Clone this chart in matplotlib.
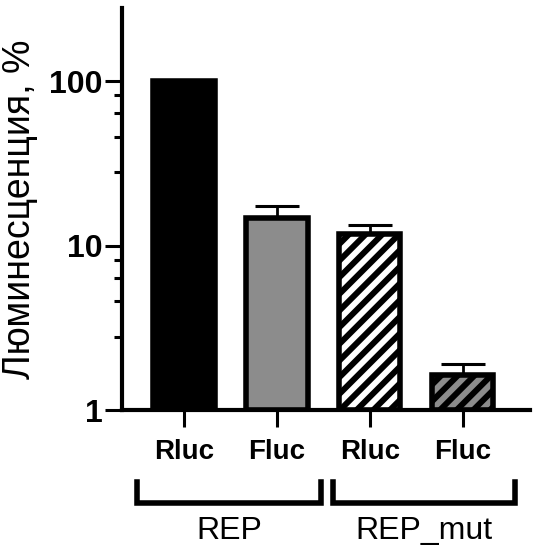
import matplotlib
matplotlib.use('Agg')
import matplotlib.pyplot as plt
import matplotlib.transforms as mtransforms
from matplotlib.ticker import FixedLocator, NullFormatter
import numpy as np

plt.rcParams['font.family'] = ['Liberation Sans', 'DejaVu Sans']
plt.rcParams['hatch.linewidth'] = 4.3

# data
labels = ['Rluc', 'Fluc', 'Rluc', 'Fluc']
values = [100, 14.8, 11.8, 1.63]
err_up = [0, 2.6, 1.6, 0.28]
groups = ['REP', 'REP_mut']
faces = ['black', '#8c8c8c', 'white', '#8c8c8c']
hatches = ['', '', '//', '//']
minor_mult = [2.8, 4.6, 6.4, 8.2]

fig = plt.figure(figsize=(5.35, 5.55), dpi=100)
ax = fig.add_axes([0.228, 0.261, 0.762, 0.725])

x = np.arange(len(values))
for i in range(len(values)):
    ax.bar(x[i], values[i] - 1, bottom=1, width=0.66, color=faces[i],
           edgecolor='black', linewidth=4, hatch=hatches[i], zorder=2)
    if err_up[i] > 0:
        ax.errorbar(x[i], values[i], yerr=[[0], [err_up[i]]], fmt='none',
                    ecolor='black', elinewidth=2, capsize=16, capthick=2.2,
                    zorder=1)

ax.set_yscale('log')
ax.set_ylim(1, 280)
ax.set_xlim(-0.667, 3.72)

ax.set_yticks([1, 10, 100])
ax.set_yticklabels(['1', '10', '100'], fontsize=23, fontweight='bold')
ax.tick_params(axis='y', which='major', length=12, width=2.2, pad=2)
ax.tick_params(axis='y', which='minor', length=6, width=2.2)

ax.set_xticks(x)
ax.set_xticklabels(labels, fontsize=20, fontweight='bold')
ax.tick_params(axis='x', length=12, width=2.2, pad=9)

for s in ['top', 'right']:
    ax.spines[s].set_visible(False)
for s in ['left', 'bottom']:
    ax.spines[s].set_linewidth(3)

ax.set_ylabel('Люминесценция, %', fontsize=27)
ax.yaxis.set_label_coords(-0.205, 0.5)

# group brackets
trans = mtransforms.blended_transform_factory(ax.transData, ax.transAxes)
brackets = [(-0.5, 1.47), (1.6, 3.56)]
for (x0, x1), g in zip(brackets, groups):
    ax.plot([x0, x0, x1, x1], [-0.178, -0.23, -0.23, -0.178], color='black',
            lw=4, transform=trans, clip_on=False, solid_joinstyle='miter')
    ax.text((x0 + x1) / 2, -0.3, g, transform=trans, ha='center',
            va='center', fontsize=23)

minors = [m * d for d in [1, 10] for m in minor_mult]
ax.yaxis.set_minor_locator(FixedLocator(minors))
ax.yaxis.set_minor_formatter(NullFormatter())

fig.savefig('out.png', dpi=100)
